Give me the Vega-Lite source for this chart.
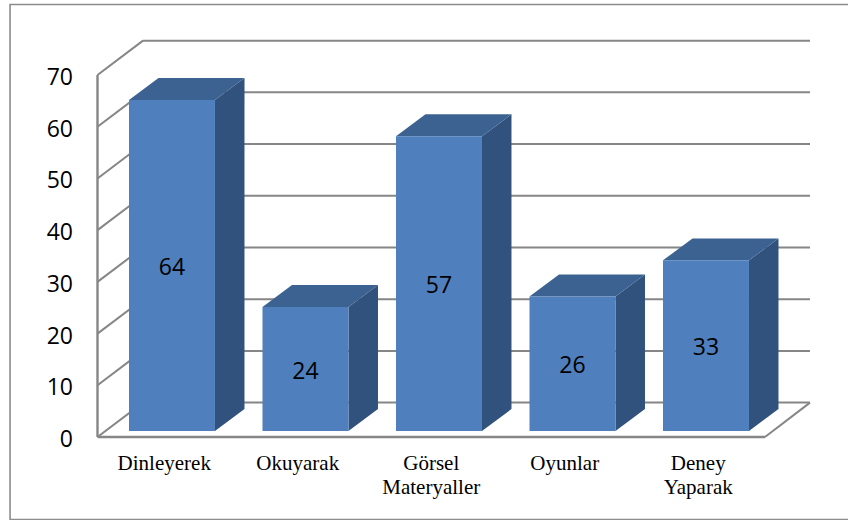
{"$schema":"https://vega.github.io/schema/vega-lite/v6.json","width":848,"height":520,"autosize":{"type":"none"},"padding":0,"background":"white","view":{"stroke":null},
"config":{"font":"Open Sans"},
"datasets":{"bars":[{"category":"Dinleyerek","value":64},{"category":"Okuyarak","value":24},{"category":"Görsel Materyaller","value":57},{"category":"Oyunlar","value":26},{"category":"Deney Yaparak","value":33}],
"ticks":[{"tick":0},{"tick":10},{"tick":20},{"tick":30},{"tick":40},{"tick":50},{"tick":60},{"tick":70}],"one":[{"k":1}]},
"layer":[
{"data":{"name":"one"},"mark":{"type":"rect","fill":null,"stroke":"#8C8C8C","strokeWidth":1.6},"encoding":{"x":{"datum":-0.655,"type":"quantitative","scale":{"domain":[-0.7303,5.6217],"nice":false,"zero":false},"axis":null},"x2":{"datum":6},"y":{"datum":83.64,"type":"quantitative","scale":{"domain":[-16.05,84.51],"nice":false,"zero":false},"axis":{"values":[0,10,20,30,40,50,60,70],"title":null,"domain":false,"ticks":false,"grid":false,"offset":-97.5,"labelPadding":25,"labelOffset":2.5,"labelFontSize":23,"labelColor":"#000000","labelFont":"Open Sans"}},"y2":{"datum":-15.95}}},
{"data":{"name":"ticks"},"transform":[{"calculate":"datum.tick+6.65","as":"backTick"}],"mark":{"type":"rule","color":"#868686","strokeWidth":2},"encoding":{"x":{"datum":0.341,"type":"quantitative"},"x2":{"datum":5.337},"y":{"field":"backTick","type":"quantitative"}}},
{"data":{"name":"ticks"},"transform":[{"calculate":"datum.tick+6.65","as":"backTick"}],"mark":{"type":"rule","color":"#868686","strokeWidth":2},"encoding":{"x":{"datum":0,"type":"quantitative"},"x2":{"datum":0.341},"y":{"field":"tick","type":"quantitative"},"y2":{"field":"backTick"}}},
{"data":{"name":"one"},"mark":{"type":"rule","color":"#868686","strokeWidth":2.4},"encoding":{"x":{"datum":0,"type":"quantitative"},"y":{"datum":0,"type":"quantitative"},"y2":{"datum":70}}},
{"data":{"name":"one"},"mark":{"type":"rule","color":"#868686","strokeWidth":2.6},"encoding":{"x":{"datum":0,"type":"quantitative"},"x2":{"datum":5},"y":{"datum":0,"type":"quantitative"}}},
{"data":{"name":"one"},"mark":{"type":"rule","color":"#868686","strokeWidth":2},"encoding":{"x":{"datum":5,"type":"quantitative"},"x2":{"datum":5.337},"y":{"datum":0,"type":"quantitative"},"y2":{"datum":6.65}}},
{"data":{"name":"bars"},"transform":[{"window":[{"op":"row_number","as":"n"}]},{"calculate":"datum.n-1+0.236","as":"left"},{"calculate":"datum.left+0.644","as":"right"},{"calculate":"[0,1]","as":"t"},{"flatten":["t"]},{"calculate":"datum.right+datum.t*0.221","as":"px"},{"calculate":"datum.value+1.16+datum.t*4.25","as":"ptop"},{"calculate":"1.16+datum.t*4.25","as":"pbase"}],"mark":{"type":"area","orient":"vertical","fill":"#31527C","line":false},"encoding":{"x":{"field":"px","type":"quantitative","stack":null},"y":{"field":"ptop","type":"quantitative","stack":null},"y2":{"field":"pbase"},"detail":{"field":"category"}}},
{"data":{"name":"bars"},"transform":[{"window":[{"op":"row_number","as":"n"}]},{"calculate":"datum.n-1+0.236","as":"left"},{"calculate":"datum.left+0.644","as":"right"},{"calculate":"[0,1]","as":"t"},{"flatten":["t"]},{"calculate":"datum.left+datum.t*0.221","as":"pl"},{"calculate":"datum.right+datum.t*0.221","as":"pr"},{"calculate":"datum.value+1.16+datum.t*4.25","as":"ptop"}],"mark":{"type":"area","orient":"horizontal","fill":"#3C6291","line":false},"encoding":{"y":{"field":"ptop","type":"quantitative","stack":null},"x":{"field":"pl","type":"quantitative","stack":null},"x2":{"field":"pr"},"detail":{"field":"category"}}},
{"data":{"name":"bars"},"transform":[{"window":[{"op":"row_number","as":"n"}]},{"calculate":"datum.n-1+0.236","as":"left"},{"calculate":"datum.left+0.644","as":"right"},{"calculate":"datum.value+1.16","as":"top"},{"calculate":"1.16","as":"base"}],"mark":{"type":"rect","fill":"#4F7FBC"},"encoding":{"x":{"field":"left","type":"quantitative"},"x2":{"field":"right"},"y":{"field":"top","type":"quantitative"},"y2":{"field":"base"}}},
{"data":{"name":"bars"},"transform":[{"window":[{"op":"row_number","as":"n"}]},{"calculate":"datum.n-1+0.558","as":"mid"},{"calculate":"datum.value/2+1.16-0.5","as":"half"}],"mark":{"type":"text","font":"Open Sans","fontSize":23,"color":"#000000","align":"center","baseline":"middle"},"encoding":{"x":{"field":"mid","type":"quantitative"},"y":{"field":"half","type":"quantitative"},"text":{"field":"value","type":"quantitative"}}},
{"data":{"name":"bars"},"transform":[{"window":[{"op":"row_number","as":"n"}]},{"calculate":"datum.n-0.5","as":"mid"}],"mark":{"type":"text","font":"Liberation Serif","fontSize":21,"color":"#000000","align":"center","baseline":"alphabetic","lineBreak":" ","lineHeight":24},"encoding":{"x":{"field":"mid","type":"quantitative"},"y":{"datum":-6.38,"type":"quantitative"},"text":{"field":"category","type":"nominal"}}}
]}
